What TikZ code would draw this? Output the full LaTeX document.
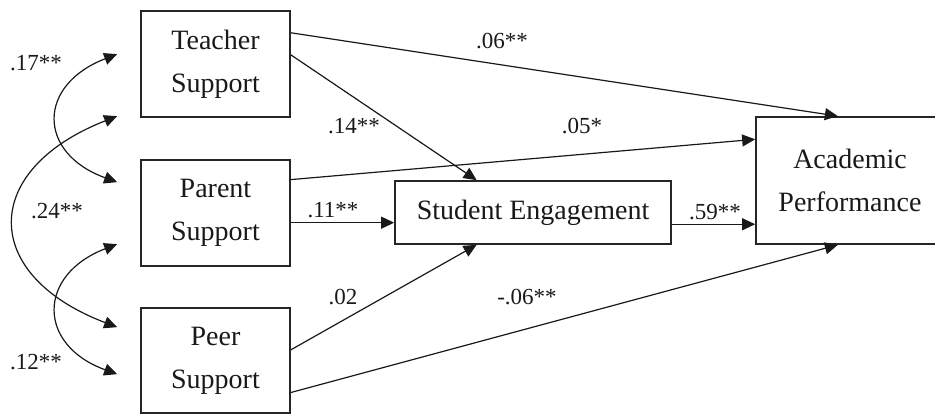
\documentclass[tikz,border=0pt]{standalone}
\usepackage{fontspec}
\setmainfont{Liberation Serif}
\usetikzlibrary{arrows.meta,calc}
\begin{document}
\begin{tikzpicture}[x=1pt,y=-1pt,
  box/.style={draw=black!85,line width=1.7pt,inner sep=0pt,align=center,
    font=\fontsize{28}{43}\selectfont,text=black!90},
  arr/.style={draw=black!90,line width=1.2pt,-{Triangle[length=13pt,width=12pt]}},
  darr/.style={draw=black!90,line width=1.2pt,{Triangle[length=13pt,width=12pt]}-{Triangle[length=13pt,width=12pt]}},
  lab/.style={inner sep=0pt,font=\fontsize{23}{23}\selectfont,text=black!90}]
\useasboundingbox (0,0) rectangle (935,414);
\fill[white] (0,0) rectangle (935,414);
\node[box,minimum width=149pt,minimum height=106pt] (T) at (215.5,64) {Teacher\\Support};
\node[box,minimum width=149pt,minimum height=106pt] (P) at (215.5,213) {Parent\\Support};
\node[box,minimum width=149pt,minimum height=105pt] (R) at (215.5,360.5) {Peer\\Support};
\node[box,minimum width=276pt,minimum height=63pt] (S) at (533,212.5) {Student Engagement};
\node[box,minimum width=188pt,minimum height=127pt] (A) at (850,180.5) {Academic\\Performance};
% coordinates
\coordinate (T1) at ($(T.north east)!0.21!(T.south east)$);
\coordinate (T2) at ($(T.north east)!0.415!(T.south east)$);
\coordinate (P1) at ($(P.north east)!0.19!(P.south east)$);
\coordinate (P2) at ($(P.north east)!0.59!(P.south east)$);
\coordinate (R1) at ($(R.north east)!0.40!(R.south east)$);
\coordinate (R2) at ($(R.north east)!0.80!(R.south east)$);
\coordinate (St) at ($(S.north west)!0.297!(S.north east)$);
\coordinate (Sb) at ($(S.south west)!0.297!(S.south east)$);
\coordinate (At) at ($(A.north west)!0.436!(A.north east)$);
\coordinate (Ab) at ($(A.south west)!0.436!(A.south east)$);
\coordinate (Al1) at ($(A.north west)!0.18!(A.south west)$);
\coordinate (Al2) at ($(A.north west)!0.84!(A.south west)$);
\draw[arr] (T1) -- (At);
\draw[arr] (T2) -- (St);
\draw[arr] (P1) -- (Al1);
\draw[arr] (P2) -- (S.west |- P2);
\draw[arr] (S.east |- Al2) -- (Al2);
\draw[arr] (R1) -- (Sb);
\draw[arr] (R2) -- (Ab);
% covariances
\coordinate (Ta) at ($(T.north west)+(-23,44)$);
\coordinate (Tb) at ($(T.north west)+(-23,106)$);
\coordinate (Pa) at ($(P.north west)+(-23,23)$);
\coordinate (Pb) at ($(P.north west)+(-23,85)$);
\coordinate (Ra) at ($(R.north west)+(-23,20)$);
\coordinate (Rb) at ($(R.north west)+(-23,67)$);
\draw[darr] (Ta) .. controls (37,85) and (37,153) .. (Pa);
\draw[darr] (Tb) .. controls (-20,170) and (-20,275) .. (Ra);
\draw[darr] (Pb) .. controls (37,275) and (37,345) .. (Rb);
% labels
\node[lab] (l1) at (502,41) {.06**};
\node[lab] (l2) at (354,126) {.14**};
\node[lab] (l3) at (582,126) {.05*};
\node[lab] (l4) at (333,210) {.11**};
\node[lab] (l5) at (343,297) {.02};
\node[lab] (l6) at (527,297) {-.06**};
\node[lab] (l7) at (715,212) {.59**};
\node[lab] (l8) at (36,63) {.17**};
\node[lab] (l9) at (57,211) {.24**};
\node[lab] (l10) at (36,362) {.12**};
\end{tikzpicture}
\end{document}
